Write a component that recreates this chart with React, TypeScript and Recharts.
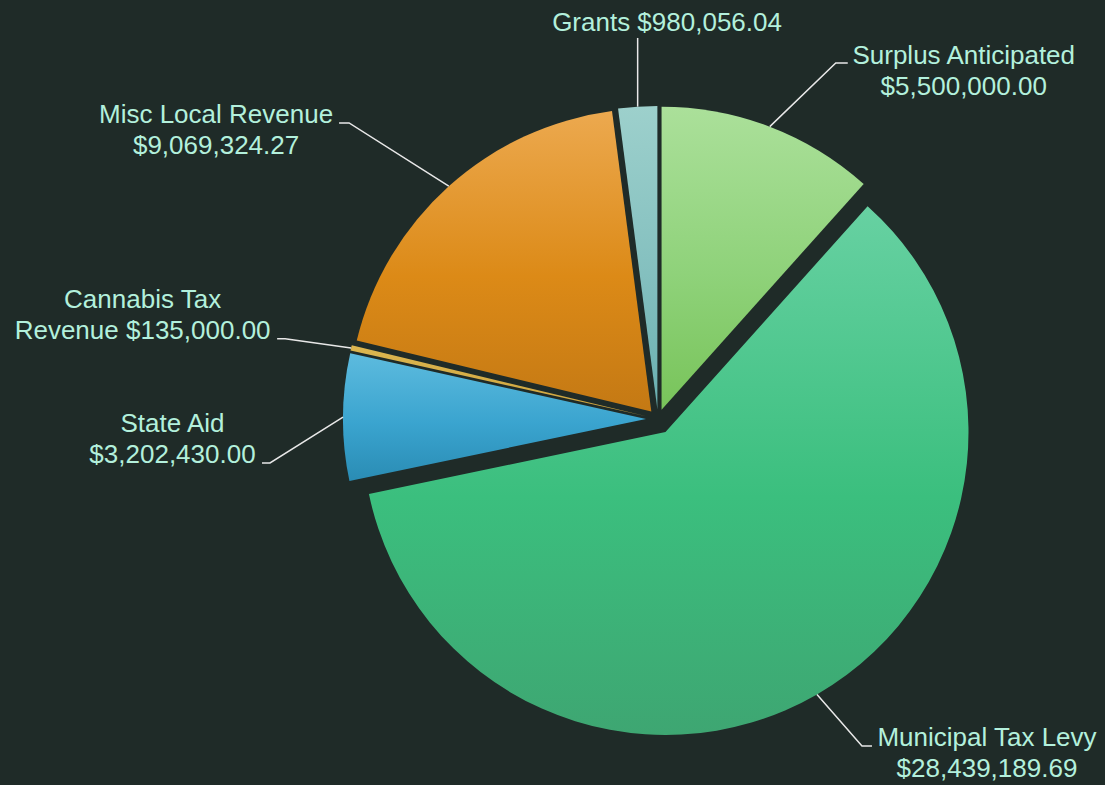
import React from "react";
import { PieChart, Pie, Cell } from "recharts";

const NAMES = [
  "Surplus Anticipated",
  "Municipal Tax Levy",
  "State Aid",
  "Cannabis Tax Revenue",
  "Misc Local Revenue",
  "Grants",
];
const VALUES = [5500000, 28439189.69, 3202430, 135000, 9069324.27, 980056.04];
// words of each label that go on the first line
const FIRST_LINE_WORDS = [2, 3, 2, 2, 3, 3];

const data = NAMES.map((name, i) => ({ name, value: VALUES[i] }));

const BG = "#1f2b28";
const TEXT = "#b3f0dc";
const RADIAN = Math.PI / 180;

// vertical gradient stops per slice (top -> bottom)
const GRADIENTS = [
  ["#abe09a", "#8fd27a", "#78c45a"], // Surplus
  ["#67d1a2", "#3bbf7e", "#3ea672"], // Municipal
  ["#5dbbde", "#3aa4cf", "#2a8cb4"], // State Aid
  ["#dcb650", "#d4ac45", "#c9a03e"], // Cannabis
  ["#eca94f", "#dc8a17", "#c47914"], // Misc
  ["#9dd0cc", "#84c0bf", "#6aafb0"], // Grants
];

const CX = 658;
const CY = 419;
const RADIUS = 303;
// how far each slice is pulled out of the pie
const EXPLODE = [10, 15, 12, 12, 10, 10];

// label layout: elbow relative to slice edge, horizontal tail, text centre, first baseline
const LABEL_LAYOUT = [
  { ex: 66, ey: -63.6, hz: 12, tx: 116, by: 1 },
  { ex: 45, ey: 51.6, hz: 10, tx: 115, by: 0 },
  { ex: -73, ey: 45.9, hz: -8, tx: -89.5, by: -31 },
  { ex: -66, ey: -9.2, hz: -8, tx: -134.5, by: -31 },
  { ex: -99.7, ey: -63.3, hz: -10, tx: -123, by: 0 },
  { ex: 0, ey: -68.7, hz: 0, tx: 29.4, by: -7 },
];

const total = VALUES.reduce((a, b) => a + b, 0);
let acc = 0;
const MID = VALUES.map((v) => {
  const m = ((acc + v / 2) / total) * 360;
  acc += v;
  return m;
});

const fmt = (v: number) =>
  "$" +
  v.toLocaleString("en-US", {
    minimumFractionDigits: 2,
    maximumFractionDigits: 2,
  });

const labelLines = (i: number) => {
  const words = `${NAMES[i]} ${fmt(VALUES[i])}`.split(" ");
  const n = FIRST_LINE_WORDS[i];
  const lines = [words.slice(0, n).join(" ")];
  if (words.length > n) lines.push(words.slice(n).join(" "));
  return lines;
};

const makeLabel = (k: number) => (props: any) => {
  if (props.index !== k) return null;
  const { cx, cy, midAngle, outerRadius } = props;
  const x0 = cx + outerRadius * Math.cos(-midAngle * RADIAN);
  const y0 = cy + outerRadius * Math.sin(-midAngle * RADIAN);
  const lay = LABEL_LAYOUT[k];
  const x1 = x0 + lay.ex;
  const y1 = y0 + lay.ey;
  const x2 = x1 + lay.hz;
  const tx = x2 + lay.tx;
  const lines = labelLines(k);
  return (
    <g key={`label-${k}`}>
      <polyline
        points={`${x0},${y0} ${x1},${y1} ${x2},${y1}`}
        stroke="#e8e8e8"
        strokeWidth={1.5}
        fill="none"
      />
      <text
        x={tx}
        y={y1 + lay.by}
        textAnchor="middle"
        fill={TEXT}
        fontSize={26}
        fontFamily="'Liberation Sans', Arial, sans-serif"
      >
        {lines.map((ln, j) => (
          <tspan key={j} x={tx} dy={j === 0 ? 0 : 31}>
            {ln}
          </tspan>
        ))}
      </text>
    </g>
  );
};

export default function App() {
  return (
    <div
      style={{
        position: "absolute",
        left: 0,
        top: 0,
        width: 1105,
        height: 785,
        background: BG,
      }}
    >
      <PieChart width={1105} height={785} margin={{ top: 0, right: 0, bottom: 0, left: 0 }}>
        <defs>
          {GRADIENTS.map((g, i) => (
            <linearGradient key={i} id={`slice-${i}`} x1="0" y1="0" x2="0" y2="1">
              <stop offset="0%" stopColor={g[0]} />
              <stop offset="55%" stopColor={g[1]} />
              <stop offset="100%" stopColor={g[2]} />
            </linearGradient>
          ))}
        </defs>
        {data.map((_, k) => (
          <Pie
            key={`pie-${k}`}
            data={data}
            dataKey="value"
            nameKey="name"
            cx={CX + EXPLODE[k] * Math.sin(MID[k] * RADIAN)}
            cy={CY - EXPLODE[k] * Math.cos(MID[k] * RADIAN)}
            outerRadius={RADIUS}
            startAngle={90}
            endAngle={-270}
            stroke="none"
            labelLine={false}
            label={makeLabel(k)}
            isAnimationActive={false}
          >
            {data.map((__, i) => (
              <Cell
                key={`cell-${i}`}
                fill={i === k ? `url(#slice-${i})` : "none"}
                stroke="none"
              />
            ))}
          </Pie>
        ))}
      </PieChart>
    </div>
  );
}
